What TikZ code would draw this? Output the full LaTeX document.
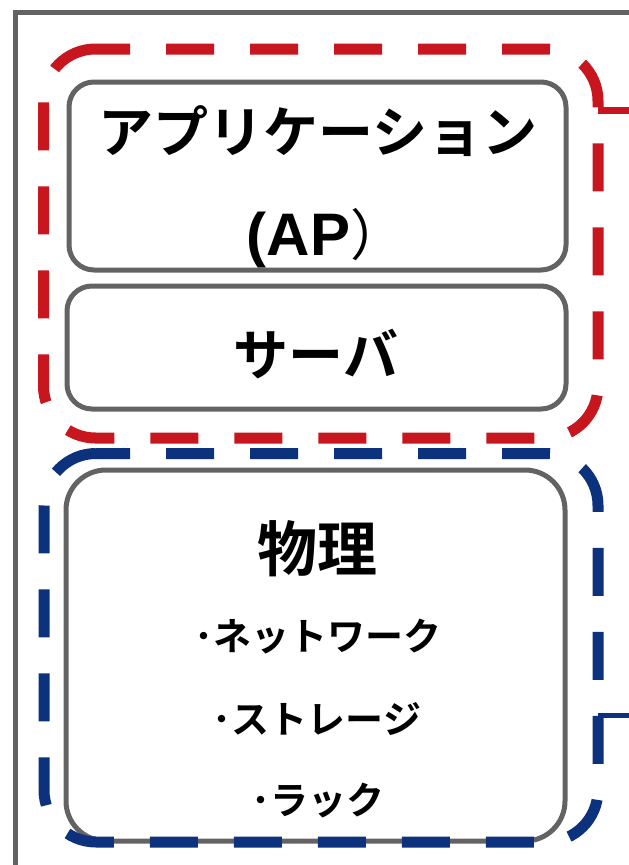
\documentclass[tikz,border=0pt]{standalone}
\usepackage{fontspec}
\setmainfont{Noto Sans CJK JP}[BoldFont=* Bold]
\newfontfamily\latinsans{Liberation Sans}
\usepackage{tikz}
\definecolor{linegray}{RGB}{99,99,99}
\definecolor{apred}{RGB}{200,22,30}
\definecolor{hwblue}{RGB}{12,50,125}

\begin{document}
\begin{tikzpicture}[x=1pt,y=-1pt,
	layer/.style={draw=linegray, line width=5pt, rounded corners=25pt},
	group/.style={line width=11pt, dash pattern=on 48pt off 36pt, dash phase=14pt, rounded corners=52pt},
	title/.style={inner sep=0pt, font=\fontsize{55}{60}\selectfont\bfseries},
	item/.style={inner sep=0pt, font=\fontsize{38}{42}\selectfont\bfseries}]

	\useasboundingbox (0,0) rectangle (629,865);
	\draw[linegray, line width=5pt] (15,870) -- (15,12) -- (635,12);

	\node[layer, minimum width=497pt, minimum height=188pt] (ap) at (317.5,176) {};
	\node[title] (apname) at (318,131) {アプリケーション};
	\node[title] (apshort) at (326,238) {{\latinsans\fontsize{60}{64}\selectfont (AP}{\mdseries ）}};

	\node[layer, minimum width=499pt, minimum height=123pt] (server) at (316.5,347.5) {};
	\node[title] (servername) at (316,354) {サーバ};

	\node[layer, rounded corners=40pt, minimum width=499pt, minimum height=371pt] (phys) at (315.5,655.5) {};
	\node[title, font=\fontsize{60}{66}\selectfont\bfseries] (physname) at (317,549) {物理};
	\node[item] (network) at (318,637) {･ネットワーク};
	\node[item] (storage) at (317,719) {･ストレージ};
	\node[item] (rack) at (318,801) {･ラック};

	\draw[group, apred] (96,49) -- (598,49) -- (598,438) -- (43.5,438) -- (43.5,49) -- (96,49);
	\draw[apred, line width=7pt] (598,110) -- (635,110);

	\draw[group, hwblue] (96,453.5) -- (598,453.5) -- (598,842) -- (44,842) -- (44,453.5) -- (96,453.5);
	\draw[hwblue, line width=5pt] (598,715) -- (635,715);
\end{tikzpicture}
\end{document}
